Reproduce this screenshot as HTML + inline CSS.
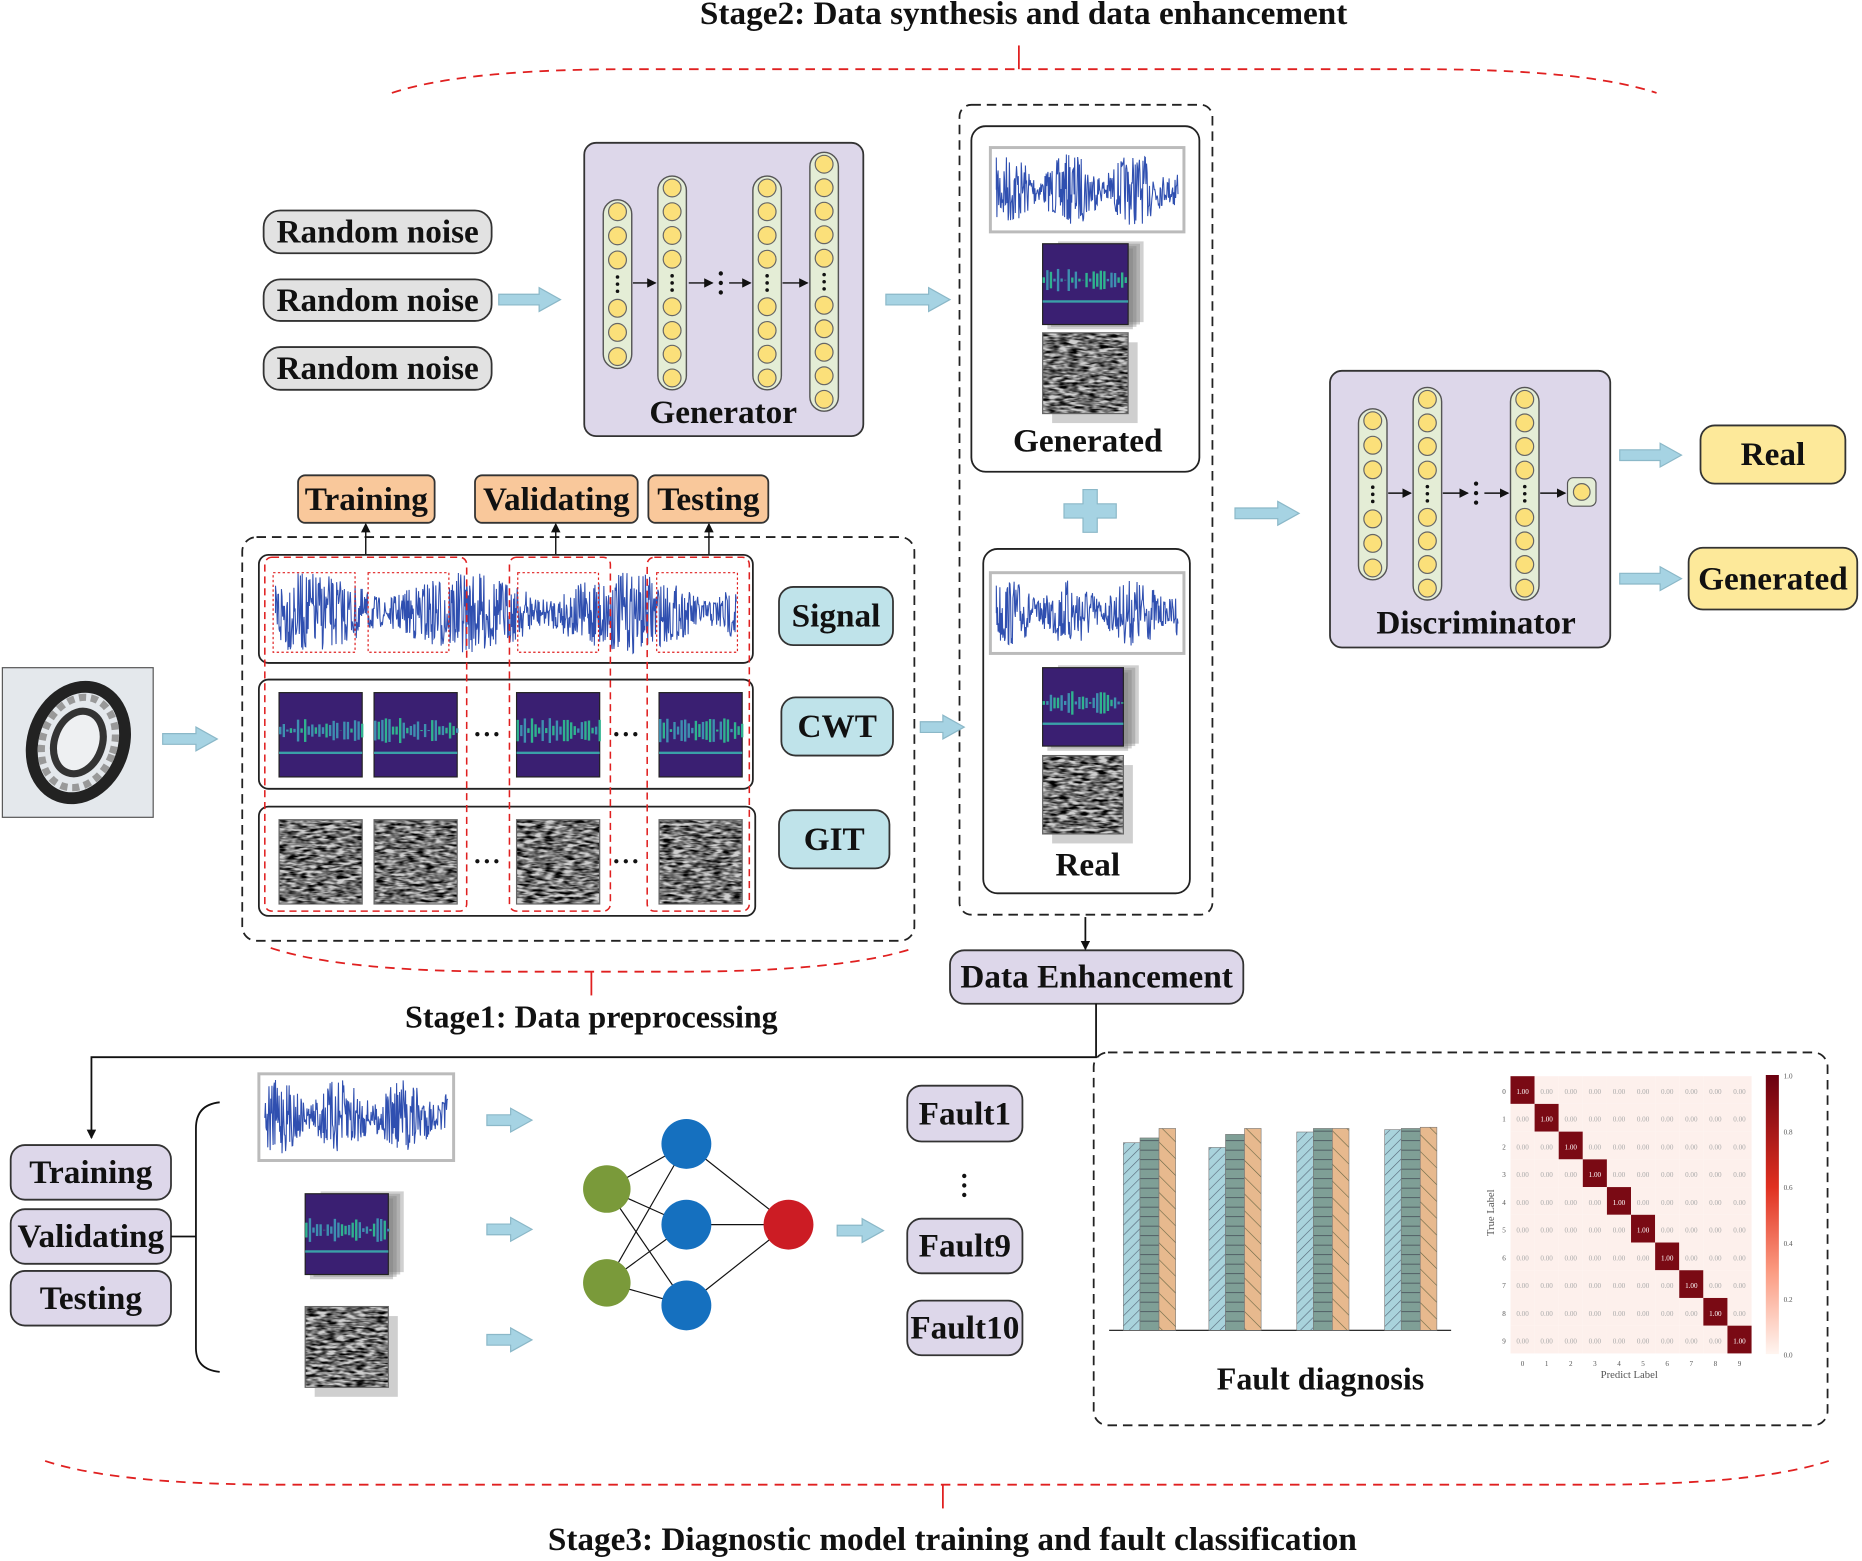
<!DOCTYPE html>
<html><head><meta charset="utf-8"><style>
html,body{margin:0;padding:0;background:#fff;}
svg{display:block;}
text{font-family:"Liberation Serif",serif;font-weight:bold;fill:#111;}
</style></head><body>
<svg id="s" width="1862" height="1561" viewBox="0 0 1568 1314" xmlns="http://www.w3.org/2000/svg">
<defs>
<filter id="git" x="0" y="0" width="1" height="1">
<feTurbulence type="fractalNoise" baseFrequency="0.12 0.45" numOctaves="2" seed="3"/>
<feColorMatrix type="matrix" values="0 0 0 0 0  0 0 0 0 0  0 0 0 0 0  -1.6 1.6 0 0 0.45"/>
<feComposite in2="SourceGraphic" operator="in"/>
</filter>
<marker id="ah" markerWidth="8" markerHeight="8" refX="7" refY="4" orient="auto" markerUnits="userSpaceOnUse"><path d="M0,0 L8,4 L0,8 Z" fill="#111"/></marker>
<pattern id="p1" width="6" height="6" patternUnits="userSpaceOnUse" patternTransform="rotate(45)"><rect width="6" height="6" fill="#a9d3dc"/><line x1="0" y1="0" x2="0" y2="6" stroke="#567" stroke-width="1"/></pattern>
<pattern id="p2" width="8" height="8" patternUnits="userSpaceOnUse"><rect width="8" height="8" fill="#7f9f96"/><line x1="0" y1="0" x2="8" y2="0" stroke="#334" stroke-width="1"/></pattern>
<pattern id="p3" width="10" height="10" patternUnits="userSpaceOnUse" patternTransform="rotate(-45)"><rect width="10" height="10" fill="#e7b98e"/><line x1="0" y1="0" x2="0" y2="10" stroke="#664" stroke-width="1"/></pattern>
</defs>
<g id="root" fill="none" stroke="#222"></g>
</svg>
<script>
var S=document.getElementById('root'),NS='http://www.w3.org/2000/svg';
function el(t,a,txt){var e=document.createElementNS(NS,t);for(var k in a)e.setAttribute(k,a[k]);if(txt!=null)e.textContent=txt;S.appendChild(e);return e;}
function T(x,y,s,sz){el('text',{x:x,y:y,'font-size':sz||28,'text-anchor':'middle',stroke:'none'},s);}
function pill(x1,y1,x2,y2,fill,txt,sz,rx){el('rect',{x:x1,y:y1,width:x2-x1,height:y2-y1,rx:rx||14,fill:fill,stroke:'#333','stroke-width':1.5});T((x1+x2)/2,(y1+y2)/2+9,txt,sz||28);}
function barrow(x1,x2,y){var h=9,H=16;el('path',{d:'M'+x1+','+(y-h/2)+' L'+(x2-18)+','+(y-h/2)+' L'+(x2-18)+','+(y-H/2-2)+' L'+x2+','+y+' L'+(x2-18)+','+(y+H/2+2)+' L'+(x2-18)+','+(y+h/2)+' L'+x1+','+(y+h/2)+' Z',fill:'#a6d3e3',stroke:'#8bb8c8','stroke-width':1});}
function line(x1,y1,x2,y2,arr,w){var a={x1:x1,y1:y1,x2:x2,y2:y2,stroke:'#111','stroke-width':w||1.5};if(arr)a['marker-end']='url(#ah)';el('line',a);}
var seed=7;function rnd(){seed=(seed*16807)%2147483647;return seed/2147483647;}
function signal(x1,y1,x2,y2,frame){
 if(frame){el('rect',{x:x1,y:y1,width:x2-x1,height:y2-y1,fill:'#fff',stroke:'#bbb','stroke-width':2.5});x1+=5;x2-=5;y1+=5;y2-=5;}
 var cy=(y1+y2)/2,hh=(y2-y1)/2,d='M'+x1+','+cy;
 for(var x=x1;x<=x2;x+=0.5){var env=0.3+0.7*Math.abs(Math.sin((x-x1)/(x2-x1)*9+1));d+=' L'+x.toFixed(1)+','+(cy+(rnd()*2-1)*hh*env).toFixed(1);}
 el('path',{d:d,stroke:'#2f4fb0','stroke-width':0.9,fill:'none'});
}
function spec(x,y,w,h){el('rect',{x:x,y:y,width:w,height:h,fill:'#3a1f72',stroke:'#222','stroke-width':1});
 for(var i=0;i<w;i+=3){var hh=rnd()*h*0.3;el('rect',{x:x+i,y:y+h*0.45-hh/2,width:2,height:hh,fill:(rnd()>0.5?'#2fb38f':'#3e8fb0'),stroke:'none'});}
 el('rect',{x:x,y:y+h*0.7,width:w,height:2,fill:'#3aa0a8',stroke:'none'});}
function gitimg(x,y,w,h){el('rect',{x:x,y:y,width:w,height:h,fill:'#cfcfcf',stroke:'none'});el('rect',{x:x,y:y,width:w,height:h,fill:'#333',stroke:'none',filter:'url(#git)'});el('rect',{x:x,y:y,width:w,height:h,fill:'none',stroke:'#666','stroke-width':1});}
function stackS(x,y,w,h){for(var k=3;k>=0;k--){el('rect',{x:x+k*3+4,y:y-k*2+4,width:w,height:h,fill:'#777',stroke:'none',opacity:0.35});}spec(x,y,w,h);}
function stackG(x,y,w,h){el('rect',{x:x+8,y:y+8,width:w,height:h,fill:'#888',stroke:'none',opacity:0.4});gitimg(x,y,w,h);}
function col(x,y1,y2,n,gapIdx){el('rect',{x:x-12,y:y1,width:24,height:y2-y1,rx:12,fill:'#e4edd6',stroke:'#555','stroke-width':1.2});
 var step=(y2-y1-20)/(n-1);for(var i=0;i<n;i++){var cy=y1+10+i*step;if(i==gapIdx){for(var j=-1;j<=1;j++)el('circle',{cx:x,cy:cy+j*6,r:1.5,fill:'#111',stroke:'none'});continue;}el('circle',{cx:x,cy:cy,r:7.5,fill:'#fbe07a',stroke:'#666','stroke-width':1});}}
function dots(x,y,vert){for(var j=-1;j<=1;j++)el('circle',{cx:vert?x:x+j*8,cy:vert?y+j*8:y,r:1.8,fill:'#111',stroke:'none'});}
function brace(x1,x2,y,mid,up){var d=up?-1:1;el('path',{d:'M'+x1+','+(y-d*20)+' Q'+(x1+60)+','+y+' '+(x1+200)+','+y+' L'+(x2-200)+','+y+' Q'+(x2-60)+','+y+' '+x2+','+(y-d*20),stroke:'#e02020','stroke-width':1.5,'stroke-dasharray':'8,6',fill:'none'});el('line',{x1:mid,y1:y,x2:mid,y2:y+d*20,stroke:'#e02020','stroke-width':1.5});}

// Stage2
T(862,20,'Stage2: Data synthesis and data enhancement',28);
brace(330,1395,58,858,true);
pill(222,177,414,213,'#e2e2e2','Random noise');pill(222,235,414,270,'#e2e2e2','Random noise');pill(222,292,414,328,'#e2e2e2','Random noise');
barrow(420,472,252);
el('rect',{x:492,y:120,width:235,height:247,rx:10,fill:'#ddd7ea',stroke:'#333','stroke-width':1.5});
col(520,168,310,7,3);col(566,148,328,9,4);col(646,148,328,9,4);col(694,128,346,11,5);
line(533,238,552,238,1,1.2);line(580,238,600,238,1,1.2);dots(607,238,true);line(614,238,632,238,1,1.2);line(659,238,680,238,1,1.2);
T(609,356,'Generator',28);
barrow(746,800,252);
el('rect',{x:808,y:88,width:213,height:682,rx:10,fill:'none',stroke:'#222','stroke-width':1.5,'stroke-dasharray':'8,5'});
el('rect',{x:818,y:106,width:192,height:291,rx:12,fill:'#fff',stroke:'#222','stroke-width':1.5});
signal(834,124,997,195,true);stackS(878,205,72,68);stackG(878,280,72,68);
T(916,380,'Generated',28);
el('path',{d:'M912,412 h12 v12 h16 v12 h-16 v12 h-12 v-12 h-16 v-12 h16 z',fill:'#a6d3e3',stroke:'#8bb8c8'});
el('rect',{x:828,y:462,width:174,height:290,rx:12,fill:'#fff',stroke:'#222','stroke-width':1.5});
signal(834,482,997,550,true);stackS(878,562,68,66);stackG(878,636,68,66);
T(916,737,'Real',28);
barrow(1040,1094,432);
el('rect',{x:1120,y:312,width:236,height:233,rx:10,fill:'#ddd7ea',stroke:'#333','stroke-width':1.5});
col(1156,344,488,7,3);col(1202,326,505,9,4);col(1284,326,505,9,4);
el('rect',{x:1320,y:402,width:24,height:24,rx:5,fill:'#e4edd6',stroke:'#555'});el('circle',{cx:1332,cy:414,r:7,fill:'#fbe07a',stroke:'#666'});
line(1169,415,1188,415,1,1.2);line(1215,415,1236,415,1,1.2);dots(1243,415,true);line(1250,415,1270,415,1,1.2);line(1297,415,1318,415,1,1.2);
T(1243,533,'Discriminator',28);
barrow(1364,1416,383);barrow(1364,1416,487);
pill(1432,358,1554,407,'#fde99a','Real',28,12);pill(1422,461,1564,513,'#fde99a','Generated',28,12);

// Stage1
el('rect',{x:204,y:452,width:566,height:340,rx:12,fill:'none',stroke:'#222','stroke-width':1.5,'stroke-dasharray':'8,5'});
pill(251,400,366,440,'#f9c89b','Training',28,6);pill(400,400,537,440,'#f9c89b','Validating',28,6);pill(546,400,647,440,'#f9c89b','Testing',28,6);
line(308,470,308,441,1,1.2);line(468,470,468,441,1,1.2);line(597,470,597,441,1,1.2);
el('rect',{x:218,y:467,width:416,height:91,rx:8,fill:'#fff',stroke:'#222','stroke-width':1.5});
el('rect',{x:218,y:572,width:416,height:92,rx:8,fill:'#fff',stroke:'#222','stroke-width':1.5});
el('rect',{x:218,y:679,width:418,height:92,rx:8,fill:'#fff',stroke:'#222','stroke-width':1.5});
signal(232,482,620,550,false);
[[230,299],[310,378],[436,504],[553,621]].forEach(function(a){el('rect',{x:a[0],y:482,width:a[1]-a[0],height:67,fill:'none',stroke:'#e02020','stroke-width':1,'stroke-dasharray':'2,2'});});
[[223,393],[429,514],[545,631]].forEach(function(a){el('rect',{x:a[0],y:469,width:a[1]-a[0],height:298,rx:6,fill:'none',stroke:'#e02020','stroke-width':1.3,'stroke-dasharray':'6,4'});});
[235,315,435,555].forEach(function(x){spec(x,583,70,71);gitimg(x,690,70,71);});
dots(410,618,false);dots(527,618,false);dots(410,725,false);dots(527,725,false);
pill(656,494,752,543,'#bfe3ea','Signal',28,12);pill(658,587,752,636,'#bfe3ea','CWT',28,12);pill(656,682,749,731,'#bfe3ea','GIT',28,12);
// bearing
el('rect',{x:2,y:562,width:127,height:126,fill:'#e4e8ec',stroke:'#555','stroke-width':1});
el('ellipse',{cx:66,cy:625,rx:38,ry:48,fill:'none',stroke:'#222','stroke-width':10,transform:'rotate(20 66 625)'});
el('ellipse',{cx:66,cy:625,rx:30,ry:39,fill:'none',stroke:'#999','stroke-width':6,'stroke-dasharray':'6,4',transform:'rotate(20 66 625)'});
el('ellipse',{cx:66,cy:625,rx:20,ry:27,fill:'#eef0f2',stroke:'#333','stroke-width':6,transform:'rotate(20 66 625)'});
barrow(137,183,622);barrow(775,812,612);
brace(228,770,818,498,false);
T(498,865,'Stage1: Data preprocessing',27);
pill(800,800,1047,845,'#ddd7ea','Data Enhancement',28,12);
line(914,772,914,799,1,1.5);
el('polyline',{points:'923,845 923,890 77,890 77,958',stroke:'#111','stroke-width':1.5,fill:'none','marker-end':'url(#ah)'});

// Stage3
pill(9,964,144,1010,'#ddd7ea','Training',28,12);pill(9,1018,144,1064,'#ddd7ea','Validating',28,12);pill(9,1070,144,1116,'#ddd7ea','Testing',28,12);
line(144,1041,165,1041,0,1.5);
el('path',{d:'M185,928 Q165,930 165,950 L165,1135 Q165,1153 185,1155',stroke:'#111','stroke-width':1.5,fill:'none'});
signal(218,904,382,977,true);stackS(257,1005,70,68);stackG(257,1100,70,68);
barrow(410,448,943);barrow(410,448,1035);barrow(410,448,1128);
var G=[[511,1001],[511,1080]],B=[[578,963],[578,1031],[578,1099]],R=[664,1031];
G.forEach(function(g){B.forEach(function(b){line(g[0],g[1],b[0],b[1],0,1);});});
B.forEach(function(b){line(b[0],b[1],R[0],R[1],0,1);});
G.forEach(function(g){el('circle',{cx:g[0],cy:g[1],r:20,fill:'#7a9a3a',stroke:'none'});});
B.forEach(function(b){el('circle',{cx:b[0],cy:b[1],r:21,fill:'#1570bf',stroke:'none'});});
el('circle',{cx:R[0],cy:R[1],r:21,fill:'#cc1c24',stroke:'none'});
barrow(705,744,1036);
pill(764,914,861,961,'#ddd7ea','Fault1',28,12);dots(812,998,true);pill(764,1026,861,1072,'#ddd7ea','Fault9',28,12);pill(764,1095,861,1141,'#ddd7ea','Fault10',28,12);
el('rect',{x:921,y:886,width:618,height:314,rx:12,fill:'none',stroke:'#222','stroke-width':1.5,'stroke-dasharray':'8,5'});
line(934,1120,1222,1120,0,1);
[[946,962,958,950],[1018,966,955,950],[1092,953,950,950],[1166,951,950,949]].forEach(function(g){var x=g[0];
 el('rect',{x:x,y:g[1],width:14,height:1120-g[1],fill:'url(#p1)',stroke:'#777','stroke-width':0.5});
 el('rect',{x:x+14,y:g[2],width:16,height:1120-g[2],fill:'url(#p2)',stroke:'#777','stroke-width':0.5});
 el('rect',{x:x+30,y:g[3],width:14,height:1120-g[3],fill:'url(#p3)',stroke:'#777','stroke-width':0.5});});
T(1112,1170,'Fault diagnosis',27);
var mx=1272,my=906,cs=20.3;
for(var i=0;i<10;i++){for(var j=0;j<10;j++){var d=i==j;el('rect',{x:mx+j*cs,y:my+i*cs*1.15,width:cs,height:cs*1.15,fill:d?'#7a0a14':'#fdf0ec',stroke:'none'});
 el('text',{x:mx+j*cs+cs/2,y:my+i*cs*1.15+15,'font-size':6,'text-anchor':'middle',stroke:'none',style:'fill:'+(d?'#fff':'#aaa')+';font-weight:normal'},d?'1.00':'0.00');}
 el('text',{x:mx-4,y:my+i*cs*1.15+15,'font-size':6,'text-anchor':'end',stroke:'none',style:'fill:#555;font-weight:normal'},i);
 el('text',{x:mx+i*cs+cs/2,y:1150,'font-size':6,'text-anchor':'middle',stroke:'none',style:'fill:#555;font-weight:normal'},i);}
el('text',{x:1372,y:1160,'font-size':9,'text-anchor':'middle',stroke:'none',style:'fill:#555;font-weight:normal'},'Predict Label');
el('text',{x:1262,y:1025,'font-size':9,'text-anchor':'middle',stroke:'none',transform:'rotate(-90 1258 1025)',style:'fill:#555;font-weight:normal'},'True Label');
var lg=document.createElementNS(NS,'linearGradient');lg.setAttribute('id','cb');lg.setAttribute('x1','0');lg.setAttribute('y1','0');lg.setAttribute('x2','0');lg.setAttribute('y2','1');
lg.innerHTML='<stop offset="0" stop-color="#6a0010"/><stop offset="0.4" stop-color="#e03020"/><stop offset="0.7" stop-color="#fb9a80"/><stop offset="1" stop-color="#fff5f0"/>';
document.querySelector('defs').appendChild(lg);
el('rect',{x:1487,y:905,width:11,height:235,fill:'url(#cb)',stroke:'none'});
['1.0','0.8','0.6','0.4','0.2','0.0'].forEach(function(t,k){el('text',{x:1502,y:908+k*47,'font-size':6,stroke:'none',style:'fill:#555;font-weight:normal'},t);});
brace(38,1540,1250,794,false);
T(802,1305,'Stage3: Diagnostic model training and fault classification',28);
</script>
</body></html>
